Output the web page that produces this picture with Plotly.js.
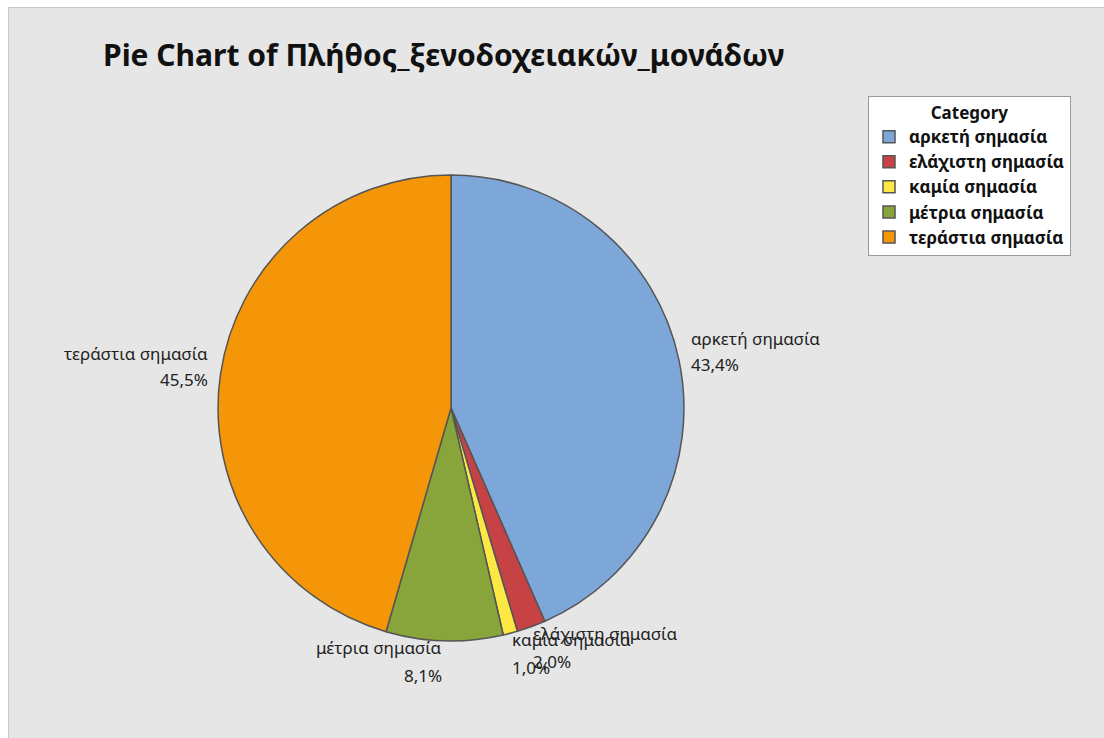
<!DOCTYPE html>
<html>
<head>
<meta charset="utf-8">
<script src="https://cdn.plot.ly/plotly-3.0.1.min.js"></script>
<style>
  html, body { margin: 0; padding: 0; background: #ffffff; }
  #chart {
    position: absolute; left: 8px; top: 7px;
    width: 1095px; height: 730px;
    border-left: 1px solid #c8c8c8; border-top: 1px solid #c8c8c8;
  }
</style>
</head>
<body>
<div id="chart"></div>
<script>
// Share of hotel units by importance category (percent)
const categories = ['αρκετή σημασία', 'ελάχιστη σημασία', 'καμία σημασία', 'μέτρια σημασία', 'τεράστια σημασία'];
const percents = [43.4, 2.0, 1.0, 8.1, 45.5];
const sliceColors = ['#7DA7D9', '#C74244', '#FDE843', '#88A53B', '#F49608'];

const W = 1095, H = 730;
const pieDomainX = [0.1909, 0.6164];
const pieDomainY = [0.1329, 0.7712];

const labelFont = { family: 'Noto Sans, sans-serif', size: 17, color: '#222222' };

// Place each outside label (name, then percentage below) next to the middle of its slice
const cxPx = (pieDomainX[0] + pieDomainX[1]) / 2 * W;
const cyPx = (1 - (pieDomainY[0] + pieDomainY[1]) / 2) * H;
const rPx = Math.min((pieDomainX[1] - pieDomainX[0]) * W, (pieDomainY[1] - pieDomainY[0]) * H) / 2;
const total = percents.reduce((a, b) => a + b, 0);
const fmt = v => v.toFixed(1).replace('.', ',') + '%';

const annotations = [];
let cum = 0;
percents.forEach((v, i) => {
  const mid = (cum + v / 2) / total * 2 * Math.PI;
  cum += v;
  const s = Math.sin(mid), c = Math.cos(mid);
  const px = cxPx + s * rPx;
  const py = cyPx - c * rPx;
  const bottom = c < -0.7;
  const common = {
    xref: 'paper', yref: 'paper',
    x: px / W, y: 1 - py / H,
    showarrow: false,
    xanchor: s >= 0 ? 'left' : 'right',
    yanchor: bottom ? 'top' : 'middle',
    xshift: bottom ? 0 : (s >= 0 ? 10 : -10),
    font: labelFont
  };
  annotations.push(Object.assign({}, common, {
    text: categories[i],
    yshift: bottom ? 7 : 22
  }));
  annotations.push(Object.assign({}, common, {
    text: fmt(v),
    yshift: bottom ? -21 : -4
  }));
});

const trace = {
  type: 'pie',
  labels: categories,
  values: percents,
  sort: false,
  direction: 'clockwise',
  rotation: 0,
  textinfo: 'none',
  hoverinfo: 'skip',
  marker: { colors: sliceColors, line: { color: '#555555', width: 1.5 } },
  domain: { x: pieDomainX, y: pieDomainY }
};

const layout = {
  width: W, height: H,
  margin: { l: 0, r: 0, t: 0, b: 0 },
  paper_bgcolor: '#E6E6E6',
  plot_bgcolor: '#E6E6E6',
  separators: ',.',
  title: {
    text: 'Pie Chart of Πλήθος_ξενοδοχειακών_μονάδων',
    font: { family: 'Noto Sans, sans-serif', size: 30, color: '#111111', weight: 'bold' },
    x: 94 / W, xanchor: 'left', xref: 'paper',
    y: 1 - 47 / H, yanchor: 'middle', yref: 'paper'
  },
  showlegend: true,
  legend: {
    x: 859 / W, y: 1 - 88 / H, xanchor: 'left', yanchor: 'top',
    bgcolor: '#ffffff', bordercolor: '#9a9a9a', borderwidth: 1,
    font: { family: 'Noto Sans, sans-serif', size: 17, color: '#111111', weight: 'bold' },
    title: { text: 'Category', side: 'top center', font: { family: 'Noto Sans, sans-serif', size: 17, color: '#111111', weight: 'bold' } },
    traceorder: 'normal'
  },
  annotations: annotations
};

Plotly.newPlot('chart', [trace], layout, { displayModeBar: false, staticPlot: true });
</script>
</body>
</html>
